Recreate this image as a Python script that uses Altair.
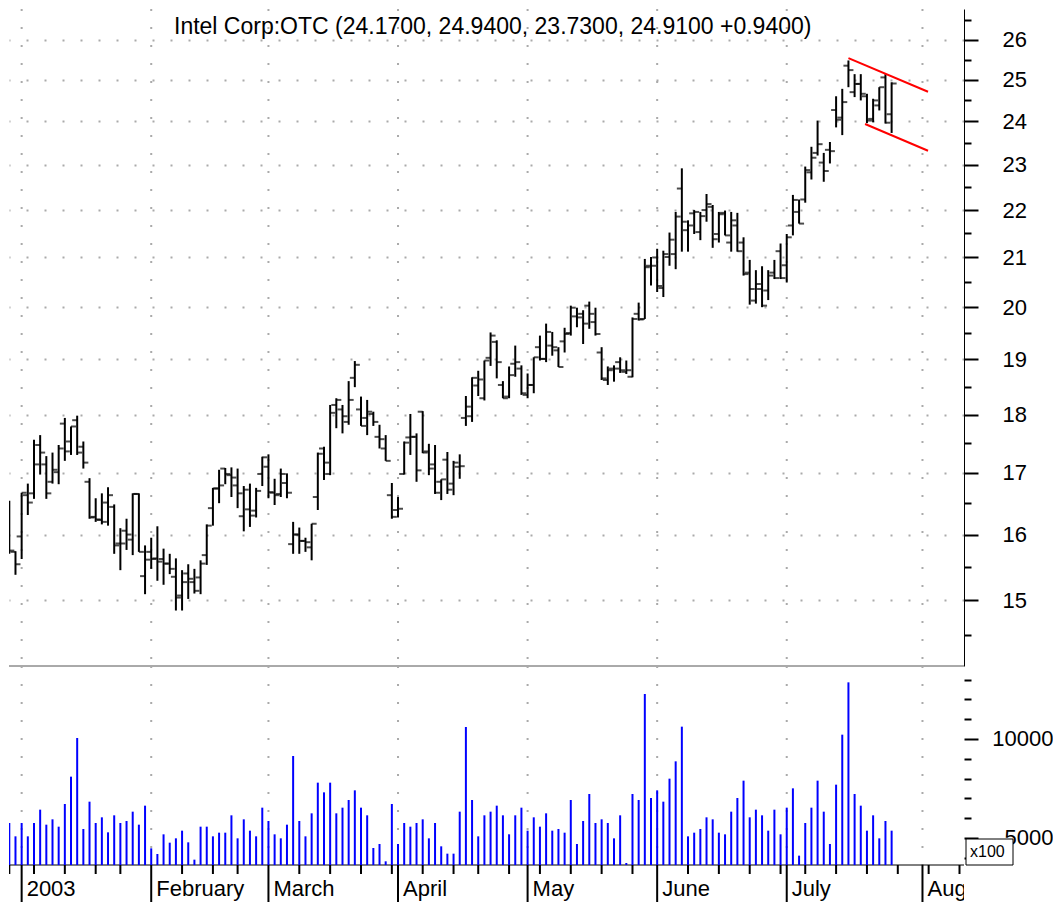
import altair as alt
import pandas as pd

# ---------------- data ----------------
opens = [16.40, 15.73, 15.97, 16.63, 16.66, 17.47, 17.14, 16.85, 17.01, 17.84,
         17.53, 17.90, 17.44, 16.85, 16.28, 16.23, 16.51, 16.44, 15.86, 16.06,
         15.92, 16.65, 15.36, 15.73, 15.63, 15.62, 15.55, 15.35, 15.07, 15.40,
         15.27, 15.34, 15.68, 16.42, 16.74, 17.07, 16.96, 16.79, 16.29, 16.40,
         16.38, 16.98, 17.10, 16.67, 16.65, 16.83, 15.85, 16.00, 15.90, 15.80,
         16.60, 17.41, 16.98, 18.17, 18.09, 17.87, 18.66, 18.09, 17.94, 18.01,
         17.61, 17.41, 16.63, 16.39, 16.98, 17.60, 17.61, 18.05, 17.36, 17.14,
         16.85, 17.22, 16.82, 17.10, 17.94, 17.97, 18.52, 18.29, 19.03, 19.33,
         18.53, 18.32, 18.92, 18.83, 18.35, 18.53, 19.23, 19.01, 19.26, 19.17,
         19.34, 19.50, 19.82, 19.87, 20.03, 19.71, 19.13, 18.62, 18.83, 18.95,
         18.77, 18.68, 19.87, 19.77, 20.83, 21.00, 20.38, 21.01, 21.07, 22.47,
         21.57, 21.93, 21.53, 22.00, 22.07, 21.49, 21.94, 21.31, 21.67, 21.31,
         20.69, 20.13, 20.36, 20.33, 20.69, 21.13, 20.84, 21.67, 21.96, 22.23,
         22.83, 23.27, 23.05, 23.34, 24.27, 24.09, 25.35, 24.70, 24.90, 24.60,
         24.06, 24.38, 25.06, 24.17]
highs = [16.54, 15.74, 16.67, 16.82, 17.56, 17.64, 17.28, 17.34, 17.47, 17.94,
         17.79, 17.98, 17.53, 16.91, 16.58, 16.66, 16.76, 16.48, 16.10, 16.25,
         16.66, 16.66, 15.83, 15.95, 16.13, 15.78, 15.70, 15.63, 15.45, 15.54,
         15.47, 15.60, 16.16, 16.75, 17.05, 17.08, 17.09, 17.07, 16.78, 16.82,
         16.75, 17.27, 17.31, 16.90, 17.07, 16.99, 16.20, 16.11, 15.95, 16.17,
         17.34, 17.44, 18.17, 18.29, 18.17, 18.60, 18.97, 18.32, 18.26, 18.05,
         17.82, 17.64, 16.83, 16.60, 17.53, 18.01, 17.67, 18.06, 17.49, 17.47,
         16.89, 17.35, 17.20, 17.31, 18.33, 18.67, 18.79, 18.98, 19.51, 19.36,
         18.60, 18.87, 19.26, 18.89, 18.74, 19.04, 19.45, 19.68, 19.52, 19.23,
         19.60, 20.03, 19.99, 19.94, 20.11, 19.99, 19.23, 18.87, 18.89, 19.04,
         18.98, 19.80, 20.09, 20.97, 21.01, 21.18, 21.14, 21.52, 21.96, 22.92,
         21.78, 22.00, 21.96, 22.35, 22.11, 21.96, 21.99, 21.96, 21.94, 21.42,
         20.95, 20.74, 20.82, 20.74, 20.95, 21.29, 21.49, 22.33, 22.23, 22.96,
         23.41, 24.02, 23.27, 23.52, 24.60, 24.78, 25.48, 25.14, 25.14, 24.66,
         24.54, 24.82, 25.14, 24.94]
lows = [15.70, 15.38, 15.62, 16.31, 16.57, 16.97, 16.57, 16.82, 16.81, 17.20,
        17.30, 17.30, 17.07, 16.25, 16.20, 16.16, 16.14, 15.70, 15.45, 15.76,
        15.68, 15.73, 15.09, 15.47, 15.29, 15.23, 15.39, 14.85, 14.85, 15.02,
        15.10, 15.09, 15.53, 16.14, 16.50, 16.81, 16.60, 16.42, 16.05, 16.12,
        16.27, 16.78, 16.58, 16.47, 16.60, 16.58, 15.70, 15.70, 15.73, 15.60,
        16.39, 16.88, 16.96, 17.76, 17.67, 17.82, 18.49, 17.80, 17.64, 17.80,
        17.41, 17.20, 16.25, 16.27, 16.97, 17.30, 16.85, 17.33, 16.96, 16.65,
        16.55, 16.65, 16.63, 16.90, 17.80, 17.87, 18.33, 18.25, 18.88, 18.65,
        18.29, 18.29, 18.68, 18.35, 18.29, 18.38, 18.98, 18.95, 19.07, 18.86,
        19.13, 19.45, 19.61, 19.29, 19.58, 19.45, 18.62, 18.53, 18.59, 18.75,
        18.73, 18.67, 19.74, 19.77, 20.43, 20.30, 20.20, 20.83, 20.76, 21.12,
        21.12, 21.49, 21.36, 21.75, 21.20, 21.31, 21.46, 21.12, 21.12, 20.63,
        20.05, 20.07, 20.00, 20.14, 20.56, 20.56, 20.49, 21.46, 21.71, 22.16,
        22.67, 23.21, 22.62, 23.03, 23.86, 23.68, 24.82, 24.58, 24.50, 23.96,
        23.98, 24.26, 23.95, 23.73]
closes = [15.75, 15.54, 16.67, 16.51, 17.14, 17.34, 16.66, 17.05, 17.41, 17.36,
          17.79, 17.34, 17.17, 16.27, 16.24, 16.20, 16.63, 15.83, 15.86, 16.00,
          16.65, 15.73, 15.61, 15.62, 15.58, 15.55, 15.47, 15.04, 15.27, 15.32,
          15.14, 15.55, 16.14, 16.74, 16.79, 16.98, 16.92, 16.66, 16.72, 16.30,
          16.70, 17.26, 16.68, 16.63, 16.98, 16.67, 16.00, 15.90, 15.88, 16.17,
          17.32, 17.17, 18.03, 18.26, 17.97, 18.26, 18.90, 17.80, 18.05, 17.87,
          17.57, 17.20, 16.28, 16.41, 17.51, 17.61, 17.04, 17.34, 17.07, 16.67,
          16.89, 16.72, 17.17, 17.11, 18.14, 18.66, 18.63, 18.98, 19.45, 18.95,
          18.29, 18.71, 18.95, 18.38, 18.53, 19.04, 19.01, 19.52, 19.23, 18.86,
          19.48, 19.99, 19.80, 19.68, 19.87, 19.48, 18.65, 18.80, 18.83, 18.80,
          18.80, 19.77, 19.76, 20.80, 20.83, 20.42, 21.07, 21.37, 21.86, 21.75,
          21.67, 21.96, 21.87, 22.13, 21.38, 21.91, 21.46, 21.78, 21.13, 20.66,
          20.36, 20.46, 20.03, 20.63, 20.58, 20.58, 21.42, 22.22, 21.71, 22.88,
          23.16, 23.47, 22.86, 23.31, 24.04, 24.46, 25.24, 24.90, 24.66, 24.02,
          24.50, 24.82, 23.97, 24.91]
volumes = [5758, 5084, 5758, 5084, 5758, 6431, 5673, 5943, 5572, 6717,
           8098, 10051, 5455, 6835, 5758, 6044, 5286, 6145, 5758, 5859,
           6330, 5673, 6633, 4478, 4192, 5185, 4764, 4983, 5370, 4781,
           3906, 5572, 5572, 5084, 5269, 5269, 6145, 4983, 5943, 5370,
           5084, 6532, 5859, 5185, 4983, 5673, 9141, 5859, 5084, 6246,
           7795, 7306, 7795, 6246, 6532, 6919, 7407, 6532, 6145, 4495,
           4697, 3822, 6717, 4697, 5758, 5572, 5758, 5943, 4983, 5758,
           4579, 4209, 4209, 6330, 10606, 6919, 5084, 6145, 6330, 6633,
           6145, 5185, 6145, 6532, 5370, 6044, 5572, 6246, 5370, 5455,
           5269, 6919, 4697, 5859, 7222, 5758, 5943, 5758, 4983, 6145,
           3737, 7222, 6919, 12273, 7020, 7407, 6835, 7997, 8872, 10623,
           5084, 5269, 5455, 6044, 5943, 5269, 5185, 6330, 7020, 7896,
           6044, 6431, 6145, 5370, 6431, 5185, 6532, 7508, 4108, 5758,
           6532, 7896, 6330, 4697, 7694, 10219, 12862, 7222, 6633, 5370,
           6145, 4983, 5859, 5370]

# trading-day index of month starts, and of first trading day of each week
month_pos = [2, 23, 42, 63, 84, 105, 126, 148]
month_names = ["2003", "February", "March", "April", "May", "June", "July", "August"]
week_pos = [0, 4, 9, 14, 18, 28, 33, 37, 47, 52, 57, 62, 67, 72, 76, 81,
            86, 91, 96, 101, 110, 115, 120, 125, 129, 134, 139, 144, 149, 154]

price_major = [15, 16, 17, 18, 19, 20, 21, 22, 23, 24, 25, 26]
price_minor = [14.5, 15.5, 16.5, 17.5, 18.5, 19.5, 20.5, 21.5, 22.5, 23.5,
               24.5, 25.5, 26.5]
vol_major = [5000, 10000]
vol_minor = [4000, 6000, 7000, 8000, 9000, 11000, 12000, 13000]

trend_x = [136.0, 148.9, 138.7, 148.9]
trend_y = [25.54, 24.71, 23.94, 23.32]
trend_id = ["upper", "upper", "lower", "lower"]

title_text = "Intel Corp:OTC (24.1700, 24.9400, 23.7300, 24.9100 +0.9400)"

# ---------------- layout ----------------
FONT = "Liberation Sans"
W = 955
PH = 657
VH = 199
SH = 38
X_DOMAIN = [-0.05, 154.73]
PRICE_DOMAIN = [14.063, 26.80]
VOL_DOMAIN = [3636, 13687]
GRID_COLOR = "#aaaaaa"

n = len(closes)
df = pd.DataFrame({"i": list(range(n)), "open": opens, "high": highs,
                   "low": lows, "close": closes, "volume": volumes})
month_df = pd.DataFrame({"m": month_pos, "name": month_names})
week_df = pd.DataFrame({"w": week_pos})
one_df = pd.DataFrame({"t": ["x100"]})


def xscale():
    return alt.Scale(domain=X_DOMAIN, nice=False, zero=False)


def pscale():
    return alt.Scale(type="log", domain=PRICE_DOMAIN, nice=False)


def vscale():
    return alt.Scale(domain=VOL_DOMAIN, nice=False, zero=False)


price_major_axis = alt.Axis(
    orient="right", values=price_major, title=None, format="d",
    tickSize=14, tickWidth=2, tickColor="black",
    domain=True, domainColor="black", domainWidth=1,
    labelFont=FONT, labelFontSize=22, labelColor="black", labelPadding=24,
    labelOverlap=False, labelFlush=False,
    grid=True, gridColor=GRID_COLOR, gridDash=[2, 16], gridWidth=2,
)
price_minor_axis = alt.Axis(
    orient="right", values=price_minor, title=None, labels=False,
    tickSize=7, tickWidth=2, tickColor="black", domain=False, grid=False,
)
vol_major_axis = alt.Axis(
    orient="right", values=vol_major, title=None, format="d",
    tickSize=14, tickWidth=2, tickColor="black", domain=False,
    labelFont=FONT, labelFontSize=22, labelColor="black", labelAlign="right",
    labelPadding=75, labelOverlap=False, labelFlush=False, grid=False,
)
vol_minor_axis = alt.Axis(
    orient="right", values=vol_minor, title=None, labels=False,
    tickSize=7, tickWidth=2, tickColor="black", domain=False, grid=False,
)

base = alt.Chart(df)


def month_grid():
    return alt.Chart(month_df).mark_rule(
        color=GRID_COLOR, strokeWidth=2, strokeDash=[2, 16]).encode(
        x=alt.X("m:Q", scale=xscale(), axis=None))


# ---- price panel ----
price_border = alt.Chart(one_df).mark_rule(color="#555555", strokeWidth=1).encode(
    y=alt.value(PH))
hl = base.mark_rule(color="black", strokeWidth=2, clip=True).encode(
    x=alt.X("i:Q", scale=xscale(), axis=None),
    y=alt.Y("low:Q", scale=pscale(), axis=price_major_axis),
    y2="high:Q",
)
open_tick = base.mark_tick(orient="horizontal", color="black", size=5,
                           thickness=2, xOffset=-2.5, clip=True).encode(
    x=alt.X("i:Q", scale=xscale(), axis=None),
    y=alt.Y("open:Q", scale=pscale(), axis=price_minor_axis),
)
close_tick = base.mark_tick(orient="horizontal", color="black", size=5,
                            thickness=2, xOffset=2.5, clip=True).encode(
    x=alt.X("i:Q", scale=xscale(), axis=None),
    y=alt.Y("close:Q", scale=pscale(), axis=None),
)
trend = alt.Chart(pd.DataFrame({"x": trend_x, "y": trend_y, "line": trend_id})).mark_line(
    color="#ff0000", strokeWidth=2).encode(
    x=alt.X("x:Q", scale=xscale(), axis=None),
    y=alt.Y("y:Q", scale=pscale(), axis=None),
    detail="line:N",
)
title = alt.Chart(pd.DataFrame({"t": [title_text]})).mark_text(
    align="left", baseline="alphabetic", font=FONT, fontSize=23, color="black").encode(
    x=alt.value(165), y=alt.value(25), text="t:N")

price = alt.layer(month_grid(), price_border, hl, open_tick, close_tick, trend,
                  title).resolve_scale(y="independent").properties(width=W, height=PH)

# ---- volume panel ----
vol_border = alt.Chart(one_df).mark_rule(color="black", strokeWidth=1).encode(
    y=alt.value(VH))
vol_bars = base.mark_rule(color="#0000ff", strokeWidth=2, clip=True).encode(
    x=alt.X("i:Q", scale=xscale(), axis=None),
    y=alt.Y("volume:Q", scale=vscale(), axis=vol_major_axis),
    y2=alt.datum(VOL_DOMAIN[0]),
)
vol_minor = base.mark_rule(opacity=0).encode(
    x=alt.X("i:Q", scale=xscale(), axis=None),
    y=alt.Y("volume:Q", scale=vscale(), axis=vol_minor_axis),
)
unit_box = alt.Chart(one_df).mark_rect(fill="white", stroke="black", strokeWidth=1).encode(
    x=alt.value(957), x2=alt.value(1004), y=alt.value(173), y2=alt.value(199))
unit_text = alt.Chart(one_df).mark_text(align="left", baseline="alphabetic", font=FONT,
                                        fontSize=16, color="black").encode(
    x=alt.value(961), y=alt.value(191), text="t:N")

volume = alt.layer(month_grid(), vol_border, vol_bars, vol_minor, unit_box,
                   unit_text).resolve_scale(y="independent").properties(width=W, height=VH)

# ---- date strip ----
week_ticks = alt.Chart(week_df).mark_rule(color="black", strokeWidth=2, clip=True).encode(
    x=alt.X("w:Q", scale=xscale(), axis=None), y=alt.value(0), y2=alt.value(9))
month_lines = alt.Chart(month_df).mark_rule(color="black", strokeWidth=2, clip=True).encode(
    x=alt.X("m:Q", scale=xscale(), axis=None), y=alt.value(0), y2=alt.value(SH))
month_text = alt.Chart(month_df).mark_text(align="left", baseline="alphabetic", dx=5,
                                           font=FONT, fontSize=22, color="black",
                                           clip=True).encode(
    x=alt.X("m:Q", scale=xscale(), axis=None), y=alt.value(31), text="name:N")
strip = alt.layer(week_ticks, month_lines, month_text).properties(width=W, height=SH)

chart = alt.vconcat(price, volume, strip, spacing=0, bounds="flush").properties(
    padding=0, background="white"
).configure_view(strokeWidth=0)

chart.save("out.html", embed_options={"renderer": "svg", "actions": False})
